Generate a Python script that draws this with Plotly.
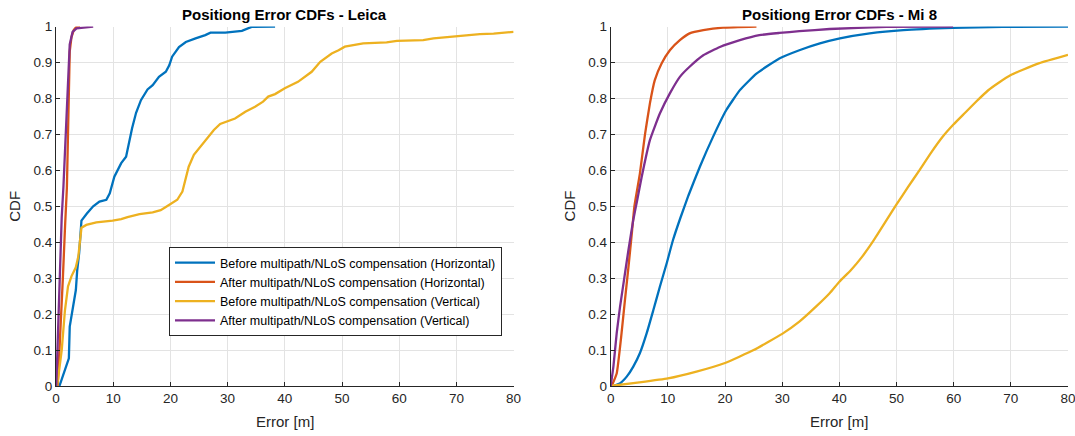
import plotly.graph_objects as go

# ---------------- Data ----------------
# Leica
leica_bh_x = [0.6, 1.3, 1.85, 2.25, 2.4, 3.0, 3.47, 3.7, 4.05, 4.45, 4.85, 5.4, 6.5, 7.6, 8.8, 9.4, 10.2, 11.4, 12.25, 12.8, 13.3, 14.0, 14.85, 16.0, 16.9, 18.0, 19.2, 19.8, 20.3, 21.5, 22.7, 24.4, 26.1, 27.0, 29.6, 32.5, 34.2, 38.3]
leica_bh_y = [0.0, 0.035, 0.063, 0.077, 0.165, 0.23, 0.267, 0.32, 0.37, 0.46, 0.47, 0.48, 0.50, 0.513, 0.518, 0.536, 0.582, 0.62, 0.638, 0.685, 0.717, 0.76, 0.795, 0.825, 0.837, 0.86, 0.874, 0.892, 0.916, 0.943, 0.957, 0.967, 0.976, 0.983, 0.983, 0.988, 0.999, 1.0]

leica_ah_x = [0.3, 0.8, 1.2, 1.6, 1.9, 2.1, 2.3, 2.4, 2.7, 3.1, 3.5, 4.2]
leica_ah_y = [0.0, 0.15, 0.3, 0.45, 0.55, 0.7, 0.85, 0.93, 0.97, 0.99, 0.998, 1.0]

leica_bv_x = [0.2, 0.7, 1.0, 1.56, 2.1, 2.7, 3.47, 3.9, 4.2, 4.45, 5.3, 7.05, 9.9, 11.4, 12.5, 14.6, 16.9, 18.3, 19.2, 20.3, 21.2, 22.1, 22.7, 23.2, 24.1, 25.5, 26.7, 27.6, 28.7, 30.2, 31.3, 33.1, 34.8, 36.2, 37.1, 38.3, 40.0, 42.3, 44.7, 46.2, 48.2, 49.4, 50.5, 53.7, 57.8, 59.6, 64.2, 66.0, 68.3, 70.05, 74.1, 76.5, 80.0]
leica_bv_y = [0.0, 0.063, 0.1, 0.21, 0.277, 0.305, 0.33, 0.36, 0.397, 0.44, 0.448, 0.455, 0.46, 0.464, 0.47, 0.478, 0.483, 0.489, 0.498, 0.51, 0.518, 0.541, 0.582, 0.61, 0.643, 0.67, 0.694, 0.712, 0.729, 0.737, 0.744, 0.763, 0.777, 0.791, 0.805, 0.812, 0.828, 0.846, 0.874, 0.902, 0.925, 0.934, 0.944, 0.953, 0.956, 0.96, 0.962, 0.967, 0.97, 0.974, 0.979, 0.98, 0.985]

leica_av_x = [0.05, 0.3, 0.6, 0.9, 1.0, 1.3, 1.7, 2.1, 2.4, 2.9, 3.6, 6.5]
leica_av_y = [0.0, 0.12, 0.3, 0.45, 0.47, 0.555, 0.70, 0.84, 0.95, 0.985, 0.995, 1.0]

# Mi 8
mi8_bh_x = [0.47, 1.6, 2.8, 3.95, 5.1, 6.3, 7.44, 8.6, 9.77, 10.9, 12.2, 13.6, 15.6, 17.9, 20.2, 22.6, 25.5, 29.5, 33.0, 36.6, 40.1, 45.3, 51.2, 59.9, 68.6, 80.0]
mi8_bh_y = [0.0, 0.007, 0.026, 0.054, 0.091, 0.147, 0.21, 0.276, 0.34, 0.406, 0.468, 0.53, 0.61, 0.693, 0.767, 0.823, 0.869, 0.911, 0.934, 0.953, 0.967, 0.981, 0.99, 0.996, 0.999, 1.0]

mi8_ah_x = [0.17, 1.05, 1.9, 2.5, 3.1, 3.7, 4.15, 5.1, 6.0, 6.86, 7.7, 8.9, 10.35, 12.1, 13.8, 16.2, 19.65, 25.5]
mi8_ah_y = [0.0, 0.035, 0.147, 0.24, 0.33, 0.425, 0.50, 0.59, 0.70, 0.786, 0.85, 0.897, 0.934, 0.962, 0.981, 0.99, 0.997, 1.0]

mi8_bv_x = [0.0, 5.0, 10.0, 15.0, 20.0, 25.0, 30.0, 33.0, 36.0, 38.3, 40.0, 42.0, 44.0, 46.0, 48.0, 50.0, 52.0, 54.0, 56.0, 58.0, 60.0, 62.0, 64.0, 66.0, 68.0, 70.0, 72.0, 75.0, 80.0]
mi8_bv_y = [0.0, 0.01, 0.021, 0.04, 0.064, 0.1, 0.145, 0.179, 0.222, 0.258, 0.29, 0.322, 0.36, 0.405, 0.455, 0.505, 0.553, 0.60, 0.648, 0.692, 0.728, 0.76, 0.792, 0.822, 0.845, 0.865, 0.879, 0.898, 0.921]

mi8_av_x = [0.0, 0.47, 1.05, 1.63, 2.33, 3.1, 3.95, 4.65, 5.4, 6.86, 8.6, 10.35, 12.1, 13.8, 16.2, 19.1, 22.6, 26.0, 29.5, 33.0, 38.3, 48.25, 59.9]
mi8_av_y = [0.0, 0.054, 0.147, 0.22, 0.295, 0.378, 0.462, 0.518, 0.58, 0.684, 0.758, 0.814, 0.86, 0.888, 0.92, 0.943, 0.962, 0.976, 0.982, 0.987, 0.993, 0.999, 1.0]

names = ["Before multipath/NLoS compensation (Horizontal)",
         "After multipath/NLoS compensation (Horizontal)",
         "Before multipath/NLoS compensation (Vertical)",
         "After multipath/NLoS compensation (Vertical)"]
colors = ["#0072BD", "#D95319", "#EDB120", "#7E2F8E"]

titles = ["Positiong Error CDFs - Leica", "Positiong Error CDFs - Mi 8"]
x_ticks = [0, 10, 20, 30, 40, 50, 60, 70, 80]
y_ticks = [0, 0.1, 0.2, 0.3, 0.4, 0.5, 0.6, 0.7, 0.8, 0.9, 1]
y_tick_text = ["0", "0.1", "0.2", "0.3", "0.4", "0.5", "0.6", "0.7", "0.8", "0.9", "1"]

# ---------------- Figure ----------------
W, H = 1075, 436
FONT = "Liberation Sans, Arial, Helvetica, sans-serif"
fig = go.Figure()

left = [(leica_bh_x, leica_bh_y), (leica_ah_x, leica_ah_y), (leica_bv_x, leica_bv_y), (leica_av_x, leica_av_y)]
right = [(mi8_bh_x, mi8_bh_y), (mi8_ah_x, mi8_ah_y), (mi8_bv_x, mi8_bv_y), (mi8_av_x, mi8_av_y)]

for i, (xs, ys) in enumerate(left):
    fig.add_trace(go.Scatter(x=xs, y=ys, mode="lines", name=names[i],
                             line=dict(color=colors[i], width=2.3),
                             xaxis="x", yaxis="y", showlegend=True))
for i, (xs, ys) in enumerate(right):
    fig.add_trace(go.Scatter(x=xs, y=ys, mode="lines", name=names[i],
                             line=dict(color=colors[i], width=2.3, shape="spline", smoothing=0.4),
                             xaxis="x2", yaxis="y2", showlegend=False))

y0 = (H - 386) / H
y1 = (H - 26.5) / H
dom_l = [56 / W, 513.6 / W]
dom_r = [610.7 / W, 1068 / W]

axis_common = dict(showgrid=True, gridcolor="#e3e3e3", gridwidth=1,
                   zeroline=False, showline=True, linecolor="#262626", linewidth=1,
                   ticks="inside", ticklen=4, tickcolor="#262626",
                   tickfont=dict(family=FONT, size=13.5, color="#262626"),
                   mirror=False, automargin=False, ticklabeloverflow="allow")

fig.update_layout(
    width=W, height=H,
    margin=dict(l=0, r=0, t=0, b=0),
    paper_bgcolor="white", plot_bgcolor="white",
    font=dict(family=FONT, color="#262626"),
    xaxis=dict(domain=dom_l, range=[0, 80], tickvals=x_ticks, anchor="y", **axis_common),
    yaxis=dict(domain=[y0, y1], range=[0, 1], tickvals=y_ticks, ticktext=y_tick_text, anchor="x", **axis_common),
    xaxis2=dict(domain=dom_r, range=[0, 80], tickvals=x_ticks, anchor="y2", **axis_common),
    yaxis2=dict(domain=[y0, y1], range=[0, 1], tickvals=y_ticks, ticktext=y_tick_text, anchor="x2", **axis_common),
    legend=dict(x=502 / W, y=(H - 247) / H, xanchor="right", yanchor="top",
                bgcolor="white", bordercolor="#262626", borderwidth=1,
                font=dict(family=FONT, size=12.5, color="#000000"),
                tracegroupgap=0, itemwidth=40),
    showlegend=True,
)

annotations = []
for dom, t in zip([dom_l, dom_r], titles):
    cx = (dom[0] + dom[1]) / 2
    annotations.append(dict(text="<b>" + t + "</b>", x=cx, y=(H - 15) / H, xref="paper", yref="paper",
                            showarrow=False, xanchor="center", yanchor="middle",
                            font=dict(family=FONT, size=15, color="#000000")))
    annotations.append(dict(text="Error [m]", x=cx, y=(H - 421) / H, xref="paper", yref="paper",
                            showarrow=False, xanchor="center", yanchor="middle",
                            font=dict(family=FONT, size=15, color="#262626")))
    annotations.append(dict(text="CDF", x=(dom[0] * W - 41.5) / W, y=(y0 + y1) / 2, xref="paper", yref="paper",
                            showarrow=False, xanchor="center", yanchor="middle", textangle=-90,
                            font=dict(family=FONT, size=15, color="#262626")))
fig.update_layout(annotations=annotations)

fig.write_html("out.html")
